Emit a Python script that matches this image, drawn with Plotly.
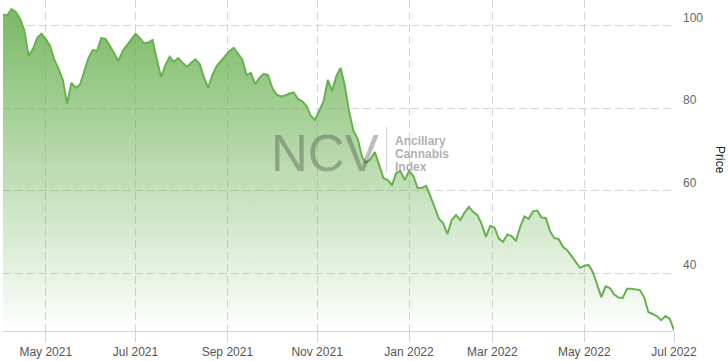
import pandas as pd
import plotly.graph_objects as go

# ---- data ----
START_DATE = "2021-04-05"
END_DATE = "2022-07-01"
HOLIDAYS = ["2021-05-31", "2021-07-05", "2021-09-06", "2021-11-25", "2021-12-24",
            "2022-01-17", "2022-02-21", "2022-04-15", "2022-05-30", "2022-06-20"]

# price every second trading day
PRICES = [
    102.7, 102.6, 104.1, 103.4, 101.7, 98.9, 92.7, 94.4, 97.1, 98.1,
    96.8, 95.2, 91.8, 89.6, 86.9, 81.1, 86.2, 85.0, 85.7, 88.8,
    92.2, 94.2, 93.9, 97.1, 96.8, 95.2, 93.2, 91.5, 93.9, 95.4,
    96.8, 98.1, 97.1, 95.8, 96.0, 96.6, 91.8, 87.6, 90.5, 92.5,
    91.3, 92.2, 91.1, 90.1, 91.0, 91.9, 90.8, 87.6, 85.0, 88.1,
    90.3, 91.5, 92.6, 93.9, 94.7, 93.3, 91.8, 88.1, 88.6, 85.9,
    87.4, 88.4, 88.1, 85.0, 83.4, 82.9, 83.1, 83.6, 83.9, 82.3,
    81.7, 80.6, 78.2, 77.2, 79.4, 81.7, 86.9, 84.2, 87.9, 89.8,
    85.4, 79.1, 74.5, 72.6, 68.2, 66.8, 67.7, 69.4, 66.3, 63.1,
    62.6, 61.4, 64.3, 64.8, 62.6, 64.8, 63.6, 60.7, 60.7, 61.2,
    58.7, 56.1, 53.2, 52.1, 49.5, 52.9, 54.1, 52.9, 54.7, 56.1,
    54.9, 54.1, 51.9, 48.8, 51.5, 51.1, 48.4, 47.6, 49.4, 49.0,
    47.8, 51.2, 53.8, 53.2, 55.0, 55.2, 53.5, 53.4, 50.2, 48.5,
    48.3, 46.4, 45.6, 44.2, 42.6, 41.3, 41.8, 42.0, 40.3, 37.1,
    34.2, 36.8, 36.4, 34.8, 34.1, 34.0, 36.2, 36.2, 36.1, 35.9,
    34.2, 30.6, 30.1, 29.6, 28.6, 29.6, 28.9, 26.2,
]

TICK_DATES = ["2021-05-03", "2021-07-01", "2021-09-01", "2021-11-01",
              "2022-01-03", "2022-03-01", "2022-05-02", "2022-07-01"]
TICK_LABELS = ["May 2021", "Jul 2021", "Sep 2021", "Nov 2021",
               "Jan 2022", "Mar 2022", "May 2022", "Jul 2022"]
Y_TICKS = [40, 60, 80, 100]
Y_RANGE = [25.97, 106.3]

trading_days = pd.bdate_range(START_DATE, END_DATE, freq="C", holidays=HOLIDAYS)
dates = trading_days[::2][:len(PRICES)]

LINE = "rgb(104,176,80)"

fig = go.Figure()
fig.add_trace(go.Scatter(
    x=dates, y=PRICES, mode="lines",
    line=dict(color=LINE, width=2),
    fill="tozeroy",
    fillgradient=dict(type="vertical", start=Y_RANGE[0], stop=104,
                      colorscale=[[0, "rgba(104,176,80,0.0)"],
                                  [1, "rgba(104,176,80,0.88)"]]),
    hoverinfo="skip", showlegend=False,
))

GRID = "#d4d4d4"
FONT = "Liberation Sans, Arial, sans-serif"

fig.update_layout(
    width=728, height=361, autosize=False,
    margin=dict(l=3, r=54, t=0, b=30),
    paper_bgcolor="white", plot_bgcolor="white",
    font=dict(family=FONT, size=12, color="#666666"),
    xaxis=dict(
        range=[START_DATE, END_DATE],
        rangebreaks=[dict(bounds=["sat", "mon"]), dict(values=HOLIDAYS)],
        tickmode="array", tickvals=TICK_DATES, ticktext=TICK_LABELS,
        showgrid=True, gridcolor=GRID, griddash="8px,4px", gridwidth=1,
        showline=True, linecolor="#ccd6eb", linewidth=1,
        ticks="outside", ticklen=10, tickcolor="#ccd6eb",
        tickfont=dict(size=12, color="#555555"),
        zeroline=False, fixedrange=True,
    ),
    yaxis=dict(
        range=Y_RANGE, side="right",
        tickmode="array", tickvals=Y_TICKS,
        showgrid=True, gridcolor=GRID, griddash="8px,4px", gridwidth=1,
        showline=False, zeroline=False, ticks="",
        ticklabelposition="outside top", ticklabelstandoff=8,
        tickfont=dict(size=12, color="#666666"),
        fixedrange=True,
    ),
)

def px_x(p):
    return (p - 3) / 671.0

def px_y(p):
    return 1 - p / 331.0

annotations = [
    dict(text="Price", xref="paper", yref="paper", x=px_x(720), y=px_y(160),
         textangle=90, showarrow=False, xanchor="center", yanchor="middle",
         font=dict(size=12, color="#222222", family=FONT)),
    dict(text="NCV", xref="paper", yref="paper", x=px_x(325), y=px_y(153),
         showarrow=False, xanchor="center", yanchor="middle",
         font=dict(size=51, color="rgba(40,40,40,0.3)", family=FONT)),
]
for txt, cy in [("Ancillary", 141.2), ("Cannabis", 153.8), ("Index", 167.2)]:
    annotations.append(dict(text="<b>%s</b>" % txt, xref="paper", yref="paper",
                            x=px_x(393), y=px_y(cy), showarrow=False,
                            xanchor="left", yanchor="middle",
                            font=dict(size=12, color="rgba(140,140,140,0.7)", family=FONT)))
fig.update_layout(annotations=annotations)
fig.add_shape(type="line", xref="paper", yref="paper",
              x0=px_x(386.7), x1=px_x(386.7), y0=px_y(127), y1=px_y(172),
              line=dict(color="rgba(150,150,150,0.45)", width=1))

fig.write_html("out.html")
